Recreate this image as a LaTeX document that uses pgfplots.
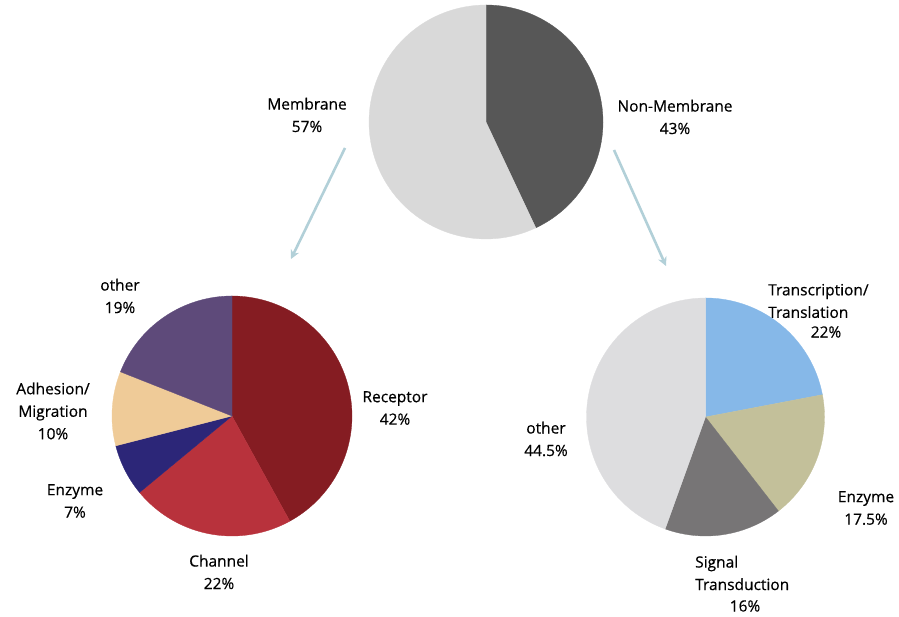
\documentclass[border=0pt]{standalone}
\usepackage{pgfplots}
\pgfplotsset{compat=1.18}
\usepackage{fontspec}
\setmainfont{Open Sans}[BoldFont={Open Sans}, BoldFeatures={FakeBold=0.45}]
\usetikzlibrary{arrows.meta}
\definecolor{memb}{HTML}{D9D9D9}
\definecolor{nonmemb}{HTML}{575757}
\definecolor{receptor}{HTML}{851C22}
\definecolor{channel}{HTML}{B8323C}
\definecolor{enzA}{HTML}{2C2678}
\definecolor{adhesion}{HTML}{EFCB98}
\definecolor{otherA}{HTML}{5E4A7A}
\definecolor{transc}{HTML}{86B8E8}
\definecolor{enzB}{HTML}{C3C09A}
\definecolor{signal}{HTML}{777576}
\definecolor{otherB}{HTML}{DDDDDF}
\definecolor{arrowc}{HTML}{B2D0D8}
% \slice{cx}{cy}{r}{cumulative start %}{share %}{colour}
\newcommand{\slice}[6]{%
  \pgfmathsetmacro{\angA}{90-3.6*(#4+#5)}%
  \pgfmathsetmacro{\angB}{90-3.6*(#4)}%
  \edef\temp{\noexpand\addplot[fill=#6, draw=#6, line width=0.3pt, domain=\angA:\angB, samples=80, variable=\noexpand\t]
    ({#1+#3*cos(\noexpand\t)},{#2+#3*sin(\noexpand\t)}) -- (axis cs:#1,#2) -- cycle;}%
  \temp
}
\begin{document}
\begin{tikzpicture}
\begin{axis}[name=ax, x=1pt, y=1pt, xmin=0, xmax=899, ymin=0, ymax=617,
  hide axis, clip=false, scale only axis]
% top pie
\slice{486}{495}{117}{0}{43}{nonmemb}
\slice{486}{495}{117}{43}{57}{memb}
% left pie
\slice{232}{201}{120}{0}{42}{receptor}
\slice{232}{201}{120}{42}{22}{channel}
\slice{232}{201}{120}{64}{7}{enzA}
\slice{232}{201}{120}{71}{10}{adhesion}
\slice{232}{201}{120}{81}{19}{otherA}
% right pie
\slice{705.5}{200}{119}{0}{22}{transc}
\slice{705.5}{200}{119}{22}{17.5}{enzB}
\slice{705.5}{200}{119}{39.5}{16}{signal}
\slice{705.5}{200}{119}{55.5}{44.5}{otherB}
% arrows
\draw[arrowc, line width=2.6pt, -{Stealth[length=9pt,width=9pt]}] (axis cs:345,469) -- (axis cs:291,358);
\draw[arrowc, line width=2.6pt, -{Stealth[length=9pt,width=9pt]}] (axis cs:614,467) -- (axis cs:666,351);
% labels
\begin{scope}[every node/.style={font=\fontsize{15.5}{22.5}\selectfont\bfseries, align=center, inner sep=0pt, text=black}]
\node at (axis cs:307,502) {Membrane\\57\%};
\node at (axis cs:675,500) {Non-Membrane\\43\%};
\node at (axis cs:120,321) {other\\19\%};
\node at (axis cs:53,206) {Adhesion/\\Migration\\10\%};
\node at (axis cs:75,116) {Enzyme\\7\%};
\node at (axis cs:219,45) {Channel\\22\%};
\node at (axis cs:395,209) {Receptor\\42\%};
\node[anchor=west, align=left] at (axis cs:768,316) {Transcription/\\Translation};
\node at (axis cs:826,285) {22\%};
\node at (axis cs:866,109) {Enzyme\\17.5\%};
\node[anchor=west, align=left] at (axis cs:695,44) {Signal\\Transduction};
\node at (axis cs:745,11) {16\%};
\node at (axis cs:546,178) {other\\44.5\%};
\end{scope}
\end{axis}
\pgfresetboundingbox
\path (ax.south west) rectangle (ax.north east);
\end{tikzpicture}
\end{document}
